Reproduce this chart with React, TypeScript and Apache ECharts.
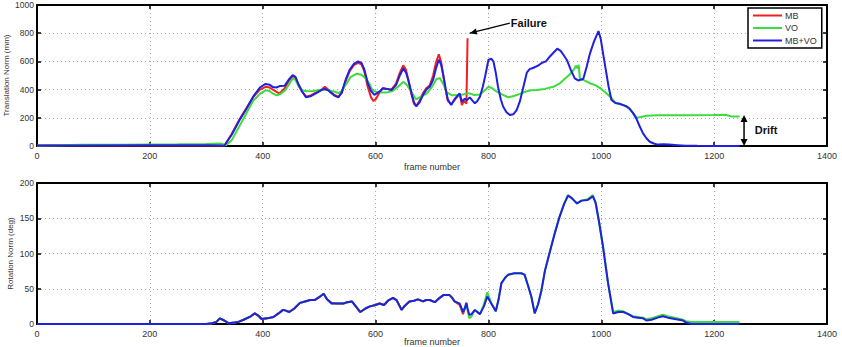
import React, { useEffect, useRef } from "react";
import * as echarts from "echarts";

const FRAME_TICKS = { min: 0, max: 1400, interval: 200 };
const TRANS_TICKS = { min: 0, max: 1000, interval: 200 };
const ROT_TICKS = { min: 0, max: 200, interval: 50 };
const LEGEND_NAMES = ["MB", "VO", "MB+VO"];

// Translation norm (mm) vs frame number
const transMB: number[][] = [
  [0, 3], [300, 5], [332, 2], [345, 85], [359, 190], [372, 275], [383, 345], [395, 400], [405, 420], [412, 415],
  [418, 400], [424, 385], [430, 372], [439, 410], [446, 460], [453, 495], [458, 485], [463, 440], [470, 385],
  [477, 350], [486, 360], [495, 380], [503, 395], [510, 420], [516, 400], [522, 378], [528, 360], [534, 350],
  [540, 375], [547, 460], [554, 530], [562, 575], [569, 590], [575, 580], [580, 530], [586, 420], [592, 345],
  [596, 320], [600, 330], [607, 380], [613, 410], [620, 405], [628, 400], [636, 440], [643, 520], [649, 572],
  [654, 540], [658, 470], [664, 360], [668, 300], [672, 285], [678, 320], [684, 375], [690, 410], [696, 430],
  [702, 500], [707, 590], [712, 650], [716, 600], [720, 500], [724, 400], [728, 320], [734, 295], [741, 330],
  [749, 370], [753, 290], [757, 320], [761, 300], [763, 764],
];
const transVO: number[][] = [
  [0, 2], [80, 8], [150, 8], [200, 10], [250, 12], [300, 15], [325, 18], [335, 5], [345, 40], [360, 150],
  [372, 240], [383, 320], [395, 370], [405, 395], [412, 390], [418, 372], [425, 360], [432, 370], [440, 395],
  [447, 440], [453, 478], [458, 470], [464, 420], [470, 395], [477, 388], [490, 390], [500, 398], [510, 400],
  [520, 392], [528, 385], [534, 375], [540, 390], [548, 440], [556, 490], [566, 512], [575, 505], [582, 480],
  [588, 450], [594, 400], [600, 385], [610, 380], [620, 380], [630, 390], [640, 420], [649, 455], [656, 430],
  [664, 380], [672, 330], [680, 350], [690, 370], [700, 420], [708, 475], [714, 480], [720, 440], [726, 380],
  [735, 360], [745, 362], [755, 365], [765, 375], [775, 362], [785, 365], [795, 400], [800, 420], [806, 410],
  [815, 385], [825, 365], [835, 345], [845, 355], [856, 370], [865, 385], [875, 395], [885, 398], [900, 405],
  [915, 420], [925, 440], [935, 475], [945, 510], [952, 545], [955, 570], [958, 550], [960, 575], [962, 480],
  [970, 465], [980, 445], [990, 430], [1000, 405], [1010, 370], [1018, 340], [1025, 305], [1032, 300],
  [1039, 290], [1045, 280], [1050, 265], [1056, 235], [1063, 200], [1070, 205], [1080, 215], [1100, 218],
  [1150, 218], [1200, 220], [1220, 222], [1230, 210], [1245, 210],
];
const transMBVO: number[][] = [
  [0, 3], [80, 4], [200, 5], [300, 5], [325, 3], [332, 2], [345, 80], [359, 184], [372, 270], [383, 350],
  [395, 415], [405, 440], [412, 435], [418, 418], [424, 415], [430, 425], [439, 428], [446, 470], [453, 503],
  [458, 490], [463, 440], [470, 385], [477, 345], [486, 355], [495, 375], [503, 395], [510, 405], [516, 395],
  [522, 375], [528, 355], [534, 345], [540, 380], [547, 470], [554, 540], [562, 585], [569, 600], [575, 590],
  [580, 545], [586, 450], [592, 390], [598, 362], [607, 385], [613, 410], [620, 405], [628, 397], [636, 430],
  [643, 500], [649, 550], [654, 520], [658, 468], [664, 370], [668, 310], [672, 282], [678, 310], [684, 362],
  [690, 400], [696, 420], [702, 470], [707, 550], [712, 612], [716, 580], [720, 503], [724, 410], [728, 330],
  [734, 291], [741, 338], [749, 373], [753, 315], [758, 335], [762, 326], [767, 345], [772, 320], [776, 303],
  [780, 318], [785, 350], [790, 420], [794, 491], [800, 610], [805, 620], [809, 598], [813, 520], [817, 420],
  [822, 330], [826, 280], [832, 240], [838, 220], [844, 225], [850, 255], [856, 320], [862, 420], [868, 520],
  [873, 545], [880, 555], [888, 570], [895, 590], [902, 600], [909, 635], [916, 665], [922, 690], [928, 675],
  [934, 640], [939, 610], [946, 540], [953, 480], [959, 465], [968, 475], [974, 560], [980, 657], [987, 740],
  [995, 815], [999, 760], [1003, 660], [1008, 540], [1013, 420], [1018, 326], [1025, 305], [1032, 300],
  [1039, 290], [1045, 280], [1050, 265], [1056, 235], [1062, 196], [1068, 140], [1074, 90], [1080, 55],
  [1086, 30], [1093, 18], [1100, 10], [1110, 12], [1120, 10], [1135, 6], [1150, 2], [1170, 1], [1200, 0],
  [1245, 0],
];

// Rotation norm (deg) vs frame number
const rotMB: number[][] = [
  [0, 0], [300, 0], [310, 1], [318, 3], [324, 8], [332, 5], [340, 1], [350, 2], [357, 3], [366, 6], [377, 10],
  [386, 15], [392, 12], [398, 7], [408, 8], [419, 10], [428, 15], [436, 20], [441, 19], [447, 17], [456, 22],
  [466, 30], [475, 32], [484, 34], [492, 34], [500, 38], [508, 43], [514, 35], [522, 30], [532, 29], [543, 29],
  [550, 31], [558, 32], [565, 25], [573, 17], [582, 22], [590, 25], [600, 27], [607, 29], [615, 27], [622, 33],
  [631, 37], [637, 34], [643, 25], [646, 20], [652, 26], [660, 32], [668, 33], [675, 35], [684, 32], [690, 34],
  [696, 34], [705, 31], [712, 36], [720, 41], [731, 41], [736, 37], [740, 32], [749, 27], [755, 14], [758, 22],
  [762, 28],
];
const rotVO: number[][] = [
  [0, 0], [300, 0], [310, 1], [318, 3], [324, 8], [332, 5], [340, 1], [350, 2], [357, 3], [366, 6], [377, 10],
  [386, 15], [392, 12], [398, 7], [408, 8], [419, 10], [428, 15], [436, 20], [441, 19], [447, 17], [456, 22],
  [466, 30], [475, 32], [484, 34], [492, 34], [500, 38], [508, 43], [514, 35], [522, 29], [532, 29], [543, 29],
  [550, 31], [558, 32], [565, 25], [573, 17], [582, 22], [590, 25], [600, 27], [607, 29], [615, 27], [622, 33],
  [631, 37], [637, 34], [643, 25], [646, 20], [652, 26], [660, 32], [668, 33], [675, 35], [684, 32], [690, 34],
  [696, 34], [705, 31], [712, 36], [720, 41], [731, 41], [736, 37], [740, 32], [749, 29], [755, 17], [758, 22],
  [761, 30], [763, 20], [766, 8], [770, 11], [776, 20], [785, 14], [792, 28], [798, 45], [805, 30], [813, 18],
  [818, 35], [823, 58], [830, 66], [835, 70], [846, 72], [858, 72], [864, 70], [870, 55], [876, 39], [882, 15],
  [888, 28], [894, 48], [900, 75], [909, 103], [918, 130], [926, 152], [934, 170], [941, 183], [947, 179],
  [952, 175], [957, 171], [965, 175], [976, 177], [985, 183], [990, 172], [996, 145], [1003, 110], [1012, 58],
  [1021, 17], [1030, 19], [1039, 18], [1048, 14], [1056, 11], [1065, 10], [1074, 9], [1080, 7], [1089, 8],
  [1100, 11], [1109, 13], [1118, 11], [1130, 9], [1145, 6], [1150, 4], [1160, 3], [1245, 3],
];
const rotMBVO: number[][] = [
  [0, 0], [300, 0], [310, 1], [318, 3], [324, 8], [332, 5], [340, 1], [350, 2], [357, 3], [366, 6], [377, 10],
  [386, 15], [392, 12], [398, 7], [408, 8], [419, 10], [428, 15], [436, 20], [441, 19], [447, 17], [456, 22],
  [466, 30], [475, 32], [484, 34], [492, 34], [500, 38], [508, 43], [514, 35], [522, 29], [532, 29], [543, 29],
  [550, 31], [558, 32], [565, 25], [573, 17], [582, 22], [590, 25], [600, 27], [607, 29], [615, 27], [622, 33],
  [631, 37], [637, 34], [643, 25], [646, 20], [652, 26], [660, 32], [668, 33], [675, 35], [684, 32], [690, 34],
  [696, 34], [705, 31], [712, 36], [720, 41], [731, 41], [736, 37], [740, 32], [749, 29], [755, 17], [758, 22],
  [761, 30], [763, 22], [766, 13], [770, 14], [776, 20], [785, 14], [792, 25], [798, 39], [805, 29], [813, 18],
  [818, 35], [823, 58], [830, 66], [835, 70], [846, 72], [858, 72], [864, 70], [870, 55], [876, 39], [882, 15],
  [888, 28], [894, 48], [900, 75], [909, 103], [918, 130], [926, 152], [934, 170], [941, 182], [947, 179],
  [952, 175], [957, 171], [965, 175], [976, 176], [985, 181], [990, 172], [996, 145], [1003, 110], [1012, 58],
  [1021, 15], [1030, 17], [1039, 17], [1048, 14], [1056, 10], [1065, 9], [1074, 8], [1080, 5], [1089, 6],
  [1100, 9], [1109, 11], [1118, 9], [1130, 7], [1145, 5], [1150, 2], [1160, 0], [1245, 0],
];

// Annotation anchors (data coordinates, top panel)
const failureTip = [767, 800];
const failureTail = [838, 872];
const driftTop = [1253, 220];
const driftBottom = [1253, 0];
const driftLabelPos = [1272, 110];

const COLORS = ["#f02020", "#3cdc3c", "#2020e0"];
const FONT = "'Liberation Sans', Arial, sans-serif";
const TXT = "#333";
const plain = (v: number) => String(v);

function xAxisPair(grid: number, nameGap: number) {
  const common = {
    gridIndex: grid,
    type: "value",
    ...FRAME_TICKS,
    axisLine: { onZero: false, lineStyle: { color: "#000", width: 2 } },
    axisTick: { inside: true, length: 4, lineStyle: { color: "#000", width: 1.5 } },
  };
  return [
    {
      ...common,
      position: "bottom",
      name: "frame number",
      nameLocation: "middle",
      nameGap,
      nameMoveOverlap: false,
      nameTextStyle: { fontSize: 9, color: TXT, fontFamily: FONT },
      axisLabel: { fontSize: 9, color: TXT, margin: 5, fontFamily: FONT, formatter: plain },
      splitLine: { show: true, lineStyle: { color: "#aaa", type: [1, 3], width: 1 } },
    },
    { ...common, position: "top", axisLabel: { show: false }, splitLine: { show: false } },
  ];
}

function yAxisPair(grid: number, ticks: any, name: string, nameGap: number) {
  const common = {
    gridIndex: grid,
    type: "value",
    ...ticks,
    axisLine: { onZero: false, show: true, lineStyle: { color: "#000", width: 2 } },
    axisTick: { show: true, inside: true, length: 4, lineStyle: { color: "#000", width: 1.5 } },
  };
  return [
    {
      ...common,
      position: "left",
      name,
      nameLocation: "middle",
      nameGap,
      nameMoveOverlap: false,
      nameTextStyle: { fontSize: 8, color: TXT, fontFamily: FONT },
      axisLabel: { fontSize: 8.5, color: TXT, margin: 3, fontFamily: FONT, formatter: plain },
      splitLine: { show: true, lineStyle: { color: "#aaa", type: [1, 3], width: 1 } },
    },
    { ...common, position: "right", axisLabel: { show: false }, splitLine: { show: false } },
  ];
}

function lineSeries(name: string, color: string, data: number[][], axis: number) {
  return {
    name,
    type: "line",
    xAxisIndex: axis,
    yAxisIndex: axis,
    data,
    symbol: "none",
    showSymbol: false,
    lineStyle: { color, width: 2 },
    itemStyle: { color },
    z: 2,
  };
}

function arrowHead(tip: number[], from: number[], len: number, half: number) {
  const dx = tip[0] - from[0];
  const dy = tip[1] - from[1];
  const d = Math.sqrt(dx * dx + dy * dy) || 1;
  const ux = dx / d;
  const uy = dy / d;
  const bx = tip[0] - ux * len;
  const by = tip[1] - uy * len;
  return [
    [tip[0], tip[1]],
    [bx - uy * half, by + ux * half],
    [bx + uy * half, by - ux * half],
  ];
}

export default function App() {
  const ref = useRef<HTMLDivElement>(null);
  useEffect(() => {
    if (!ref.current) return;
    const chart = echarts.init(ref.current, null, { renderer: "svg" });
    chart.setOption({
      animation: false,
      backgroundColor: "#fff",
      textStyle: { fontFamily: FONT },
      grid: [
        { left: 37, top: 5, width: 790, height: 141, outerBoundsMode: "none", containLabel: false },
        { left: 37, top: 183, width: 790, height: 141, outerBoundsMode: "none", containLabel: false },
      ],
      xAxis: [...xAxisPair(0, 16), ...xAxisPair(1, 13)],
      yAxis: [
        ...yAxisPair(0, TRANS_TICKS, "Translation Norm (mm)", 27),
        ...yAxisPair(1, ROT_TICKS, "Rotation Norm (deg)", 23),
      ],
      legend: {
        data: LEGEND_NAMES.map((n) => ({ name: n, icon: "rect" })),
        orient: "vertical",
        left: 748,
        top: 8,
        padding: [3, 5, 3, 5],
        itemGap: 3.5,
        itemWidth: 29,
        itemHeight: 2,
        backgroundColor: "#fff",
        borderColor: "#000",
        borderWidth: 1.5,
        borderRadius: 0,
        textStyle: { fontSize: 9, color: TXT, fontFamily: FONT, lineHeight: 9, padding: [0, 0, 0, -2] },
      },
      series: [
        lineSeries("MB", COLORS[0], transMB, 0),
        lineSeries("VO", COLORS[1], transVO, 0),
        lineSeries("MB+VO", COLORS[2], transMBVO, 0),
        lineSeries("MB", COLORS[0], rotMB, 2),
        lineSeries("VO", COLORS[1], rotVO, 2),
        lineSeries("MB+VO", COLORS[2], rotMBVO, 2),
      ],
    });

    const finder = { xAxisIndex: 0, yAxisIndex: 0 };
    const tip = chart.convertToPixel(finder, failureTip) as number[];
    const tail = chart.convertToPixel(finder, failureTail) as number[];
    const dTop = chart.convertToPixel(finder, driftTop) as number[];
    const dBot = chart.convertToPixel(finder, driftBottom) as number[];
    const dLab = chart.convertToPixel(finder, driftLabelPos) as number[];
    const failHead = arrowHead(tip, tail, 7, 3);
    const driftUp = arrowHead(dTop, dBot, 7, 3.5);
    const driftDown = arrowHead(dBot, dTop, 7, 3.5);

    chart.setOption({
      graphic: [
        {
          type: "line",
          shape: { x1: tail[0], y1: tail[1], x2: tip[0], y2: tip[1] },
          style: { stroke: "#000", lineWidth: 1.2 },
          z: 10,
        },
        { type: "polygon", shape: { points: failHead }, style: { fill: "#000" }, z: 10 },
        {
          type: "text",
          x: tail[0] + 1,
          y: tail[1],
          style: {
            text: "Failure",
            fill: "#111",
            font: `bold 11px ${FONT}`,
            textVerticalAlign: "middle",
            verticalAlign: "middle",
          },
          z: 10,
        },
        {
          type: "line",
          shape: { x1: dTop[0], y1: dTop[1] + 3, x2: dBot[0], y2: dBot[1] - 3 },
          style: { stroke: "#000", lineWidth: 1.5 },
          z: 10,
        },
        { type: "polygon", shape: { points: driftUp }, style: { fill: "#000" }, z: 10 },
        { type: "polygon", shape: { points: driftDown }, style: { fill: "#000" }, z: 10 },
        {
          type: "text",
          x: dLab[0],
          y: dLab[1],
          style: {
            text: "Drift",
            fill: "#111",
            font: `bold 11px ${FONT}`,
            textVerticalAlign: "middle",
            verticalAlign: "middle",
          },
          z: 10,
        },
      ],
    });

    return () => chart.dispose();
  }, []);
  return (
    <div
      ref={ref}
      style={{ position: "fixed", left: 0, top: 0, width: 842, height: 347, background: "#fff" }}
    />
  );
}
